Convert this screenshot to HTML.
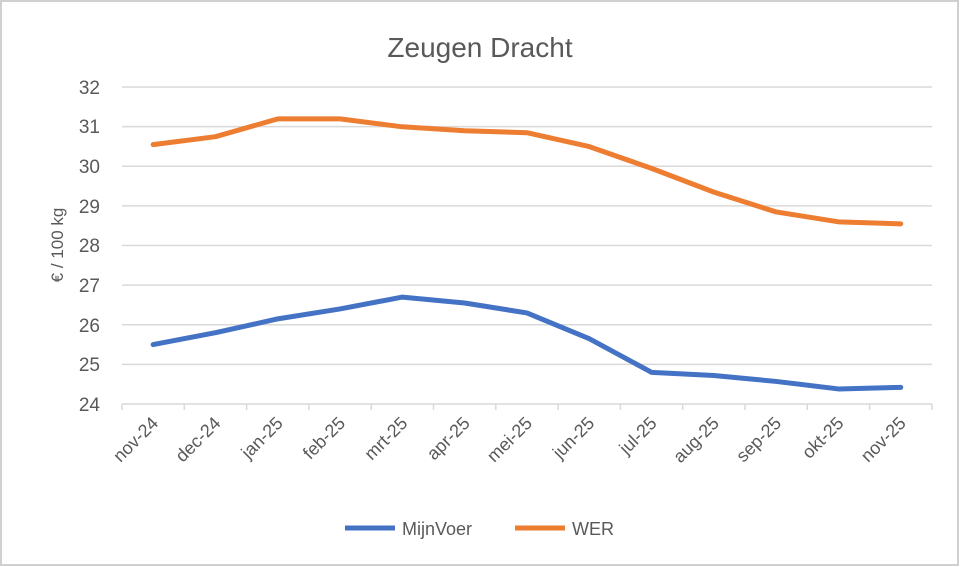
<!DOCTYPE html>
<html><head><meta charset="utf-8"><style>
html,body{margin:0;padding:0;background:#fff;}
svg{display:block;font-family:"Liberation Sans",sans-serif;}
</style></head><body>
<svg width="960" height="567" viewBox="0 0 960 567">
<rect x="1" y="1" width="957" height="564" fill="#fff" stroke="#d0d0d0" stroke-width="2"/>
<text x="480" y="57" text-anchor="middle" font-size="28" fill="#595959">Zeugen Dracht</text>
<g stroke="#d9d9d9" stroke-width="1.5">
<line x1="122" x2="932" y1="87" y2="87"/><line x1="122" x2="932" y1="126.6" y2="126.6"/>
<line x1="122" x2="932" y1="166.3" y2="166.3"/><line x1="122" x2="932" y1="205.9" y2="205.9"/>
<line x1="122" x2="932" y1="245.5" y2="245.5"/><line x1="122" x2="932" y1="285.1" y2="285.1"/>
<line x1="122" x2="932" y1="324.8" y2="324.8"/><line x1="122" x2="932" y1="364.4" y2="364.4"/>
<line x1="122" x2="932" y1="404" y2="404"/>
</g>
<g stroke="#d9d9d9" stroke-width="1.5" id="ticks"></g>
<g font-size="19" fill="#595959" text-anchor="end">
<text x="100" y="94">32</text><text x="100" y="133">31</text><text x="100" y="173">30</text>
<text x="100" y="213">29</text><text x="100" y="252">28</text><text x="100" y="292">27</text>
<text x="100" y="332">26</text><text x="100" y="371">25</text><text x="100" y="411">24</text>
</g>
<text transform="translate(63,245) rotate(-90)" text-anchor="middle" font-size="17" fill="#595959">€ / 100 kg</text>
<g id="xl" font-size="18" fill="#595959" text-anchor="end"></g>
<polyline id="wer" fill="none" stroke="#ED7D31" stroke-width="5" stroke-linejoin="round" stroke-linecap="round"/>
<polyline id="mv" fill="none" stroke="#4472C4" stroke-width="5" stroke-linejoin="round" stroke-linecap="round"/>
<line x1="345" x2="395" y1="528" y2="528" stroke="#4472C4" stroke-width="5"/>
<text x="402" y="535" font-size="18" fill="#595959">MijnVoer</text>
<line x1="515" x2="565" y1="528" y2="528" stroke="#ED7D31" stroke-width="5"/>
<text x="572" y="535" font-size="18" fill="#595959">WER</text>
<script>
var ns="http://www.w3.org/2000/svg";
var labs=["nov-24","dec-24","jan-25","feb-25","mrt-25","apr-25","mei-25","jun-25","jul-25","aug-25","sep-25","okt-25","nov-25"];
var w=[30.55,30.75,31.2,31.2,31.0,30.9,30.85,30.5,29.95,29.35,28.85,28.6,28.55];
var m=[25.5,25.8,26.15,26.4,26.7,26.55,26.3,25.65,24.8,24.72,24.57,24.38,24.42];
var sp=62.3,x0=122;
function X(i){return x0+sp/2+i*sp;}function Y(v){return 404-(v-24)*39.6;}
var t=document.getElementById("ticks"),xl=document.getElementById("xl");
for(var i=0;i<=13;i++){var l=document.createElementNS(ns,"line");l.setAttribute("x1",x0+i*sp);l.setAttribute("x2",x0+i*sp);l.setAttribute("y1",404);l.setAttribute("y2",410);t.appendChild(l);}
for(var i=0;i<13;i++){var tx=document.createElementNS(ns,"text");var x=X(i)+2,y=420;tx.setAttribute("transform","translate("+x+","+y+") rotate(-45)");tx.setAttribute("x",0);tx.setAttribute("y",6);tx.textContent=labs[i];xl.appendChild(tx);}
document.getElementById("wer").setAttribute("points",w.map(function(v,i){return X(i)+","+Y(v)}).join(" "));
document.getElementById("mv").setAttribute("points",m.map(function(v,i){return X(i)+","+Y(v)}).join(" "));
</script>
</svg>
</body></html>
